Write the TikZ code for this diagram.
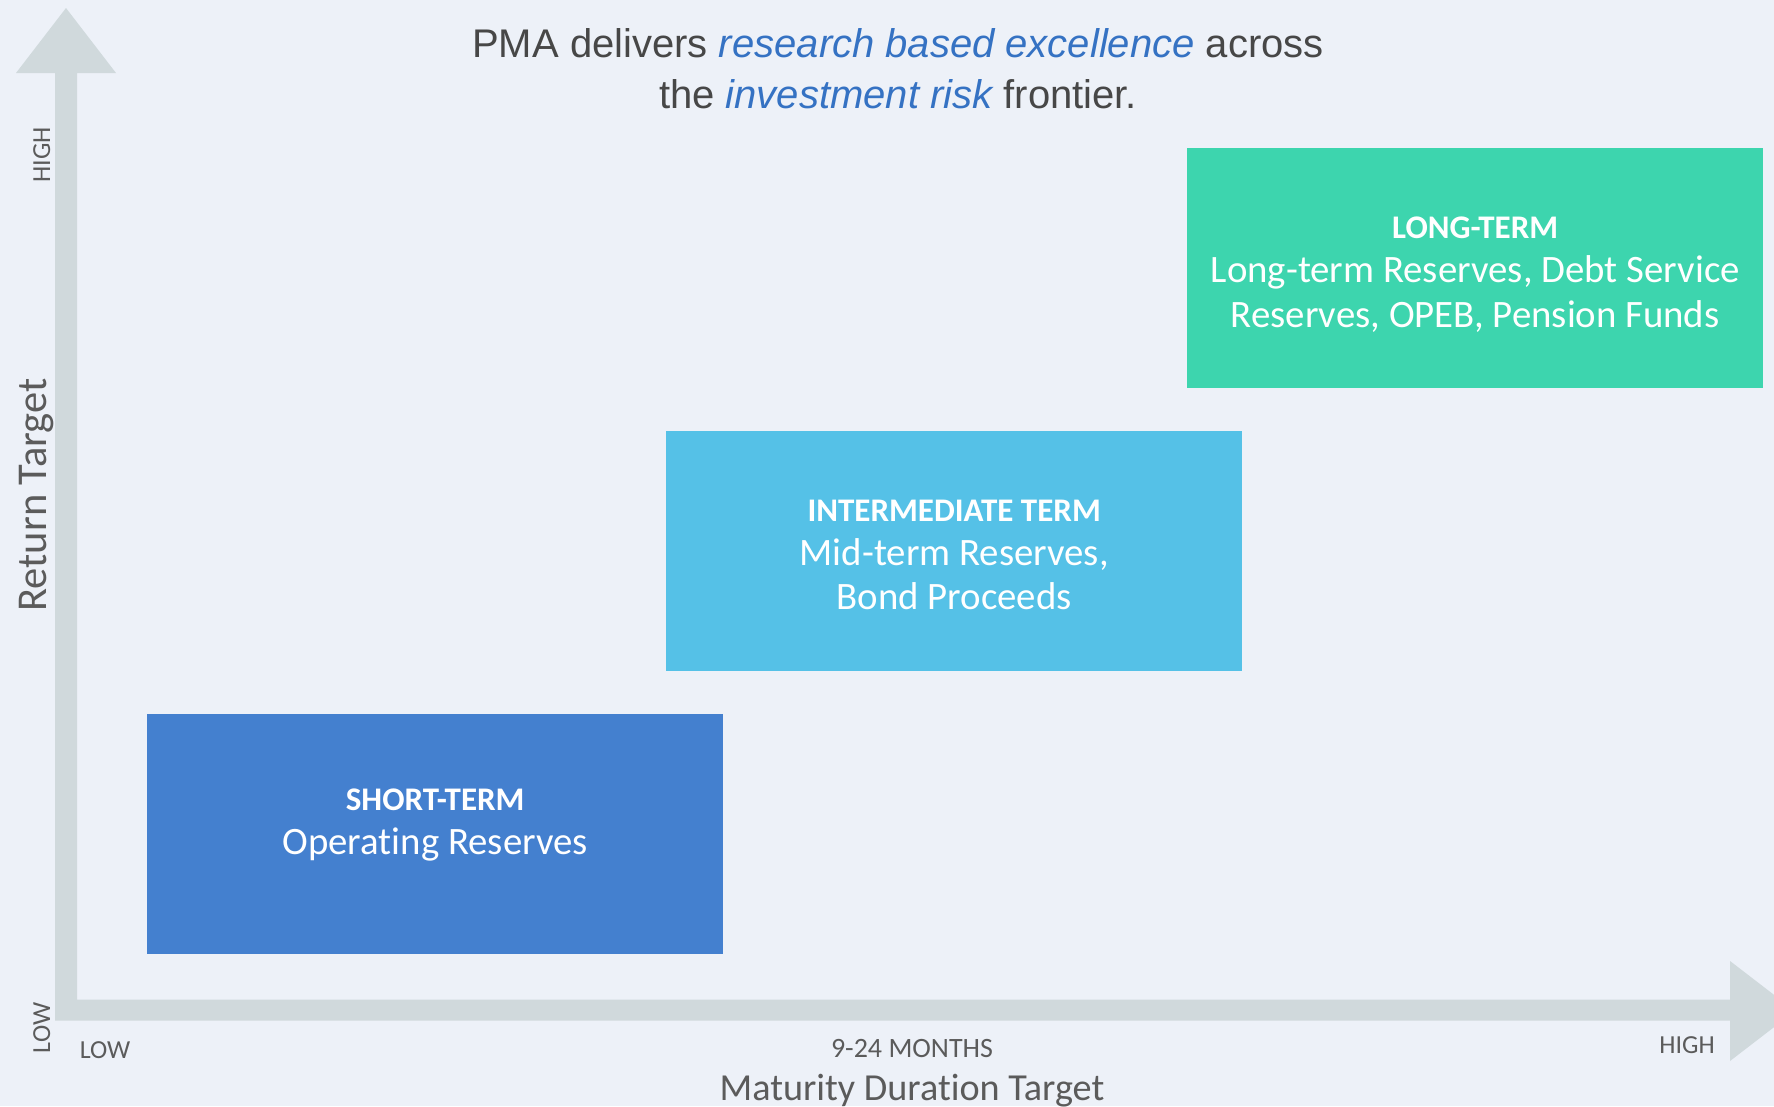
\documentclass[tikz,border=0pt]{standalone}
\usepackage{fontspec}
\setmainfont{Liberation Sans}
\newfontfamily\bandfont[Ligatures={NoCommon}]{Carlito}

\definecolor{bgcol}{HTML}{EDF1F8}
\definecolor{axiscol}{HTML}{D0D9DC}
\definecolor{shortcol}{HTML}{4480CF}
\definecolor{midcol}{HTML}{55C1E7}
\definecolor{longcol}{HTML}{3DD5AE}
\definecolor{titlegray}{HTML}{474747}
\definecolor{accentblue}{HTML}{3572C3}
\definecolor{labelgray}{HTML}{5B5B5B}

\begin{document}
\begin{tikzpicture}[x=1pt,y=-1pt,
  band/.style={draw=none, inner sep=0pt, anchor=north west,
    minimum width=576pt, minimum height=240pt},
  bandhead/.style={anchor=base, inner sep=0pt, text=white,
    font=\bandfont\bfseries\fontsize{33}{38}\selectfont},
  bandline/.style={anchor=base, inner sep=0pt, text=white,
    font=\bandfont\fontsize{38.8}{44}\selectfont},
  ticklabel/.style={anchor=base, inner sep=0pt, text=labelgray,
    font=\bandfont\fontsize{#1}{30}\selectfont},
  ticklabel/.default=26,
  axistitle/.style={anchor=base, inner sep=0pt, text=labelgray,
    font=\bandfont\fontsize{#1}{44}\selectfont},
  headline/.style={anchor=base, inner sep=0pt, text=titlegray,
    font=\fontsize{40}{48}\selectfont},
]
% canvas
\useasboundingbox (0,0) rectangle (1774,1106);
\clip (0,0) rectangle (1774,1106);
\fill[bgcol] (0,0) rectangle (1774,1106);

% the two axes as one L-shaped arrow outline
\fill[axiscol] (55,1020.5) -- (55,73) -- (16,73) -- (66,8) -- (116,73)
  -- (77,73) -- (77,999.5) -- (1730,999.5) -- (1730,961) -- (1795,1011)
  -- (1730,1061) -- (1730,1020.5) -- cycle;

% heading
\node[headline] (head1) at (898,57)
  {PMA delivers \textcolor{accentblue}{\itshape research based excellence} across};
\node[headline] (head2) at (898,108)
  {the \textcolor{accentblue}{\itshape investment risk} frontier.};

% horizon bands
\node[band, fill=shortcol] (short) at (147,714) {};
\node[band, fill=midcol]   (mid)   at (666,431) {};
\node[band, fill=longcol]  (long)  at (1187,148) {};

\node[bandhead] (shortH) at ([yshift=-96pt]short.north) {SHORT-TERM};
\node[bandline] (shortA) at ([yshift=-140pt]short.north) {Operating Reserves};

\node[bandhead] (midH) at ([yshift=-90pt]mid.north) {INTERMEDIATE TERM};
\node[bandline] (midA) at ([yshift=-134pt]mid.north) {Mid-term Reserves,};
\node[bandline] (midB) at ([yshift=-178pt]mid.north) {Bond Proceeds};

\node[bandhead] (longH) at ([yshift=-90pt]long.north) {LONG-TERM};
\node[bandline] (longA) at ([yshift=-134pt]long.north) {Long-term Reserves, Debt Service};
\node[bandline] (longB) at ([yshift=-179pt]long.north) {Reserves, OPEB, Pension Funds};

% axis scale labels
\node[ticklabel, rotate=90] (yhigh) at (50,155) {HIGH};
\node[ticklabel, rotate=90] (ylow)  at (50,1028) {LOW};
\node[ticklabel] (xlow)  at (105,1058) {LOW};
\node[ticklabel=28] (xmid)  at (912,1057) {9-24 MONTHS};
\node[ticklabel] (xhigh) at (1687,1053) {HIGH};

% axis titles
\node[axistitle=42.5, rotate=90] (ytitle) at (46,495) {Return Target};
\node[axistitle=38.2] (xtitle) at (912,1100) {Maturity Duration Target};
\end{tikzpicture}
\end{document}
